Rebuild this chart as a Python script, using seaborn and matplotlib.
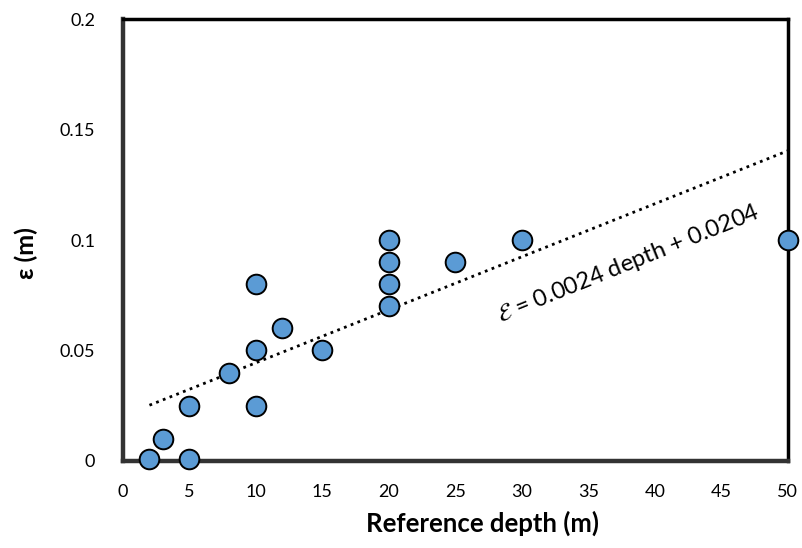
import matplotlib
matplotlib.use("Agg")
import matplotlib.pyplot as plt
import seaborn as sns
import numpy as np
import pandas as pd

depth = [2, 3, 5, 5, 8, 10, 10, 10, 12, 15, 20, 20, 20, 20, 25, 30, 50]
eps = [0.001, 0.01, 0.001, 0.025, 0.04, 0.025, 0.05, 0.08, 0.06, 0.05, 0.07, 0.08, 0.09, 0.1, 0.09, 0.1, 0.1]
trend_slope = 0.0024
trend_intercept = 0.0204
trend_x = [2, 50]
x_ticks = [0, 5, 10, 15, 20, 25, 30, 35, 40, 45, 50]
y_ticks = [0, 0.05, 0.1, 0.15, 0.2]
y_ticklabels = ["0", "0.05", "0.1", "0.15", "0.2"]

sns.set_style("white")
plt.rcParams['font.family'] = ['Lato', 'DejaVu Sans']
plt.rcParams['text.color'] = 'black'
plt.rcParams['axes.labelcolor'] = 'black'
plt.rcParams['xtick.color'] = 'black'
plt.rcParams['ytick.color'] = 'black'

fig = plt.figure(figsize=(8.03, 5.48), dpi=100)
ax = fig.add_axes([0.153, 0.159, 0.828, 0.806])

df = pd.DataFrame({"depth": depth, "eps": eps})
tx = np.array(trend_x, dtype=float)
ty = trend_slope * tx + trend_intercept
ax.plot(tx, ty, linestyle=(0, (1, 1.6)), color="black", lw=2.0, zorder=2)

sns.scatterplot(data=df, x="depth", y="eps", ax=ax, s=200, color="#5B9BD5",
                edgecolor="black", linewidth=1.4, zorder=3, clip_on=False, legend=False)

ax.set_xlim(0, 50)
ax.set_ylim(0, 0.2)
ax.set_xticks(x_ticks)
ax.set_yticks(y_ticks)
ax.set_yticklabels(y_ticklabels)
ax.tick_params(axis="both", length=0, labelsize=13)
ax.tick_params(axis="x", pad=17)
ax.tick_params(axis="y", pad=20)

for s in ["top", "right"]:
    ax.spines[s].set_color("black")
    ax.spines[s].set_linewidth(2.5)
for s in ["left", "bottom"]:
    ax.spines[s].set_color("#333333")
    ax.spines[s].set_linewidth(3.2)
ax.axvline(0, color="#aaaaaa", lw=1.4, zorder=1.5, clip_on=False)
ax.axhline(0, color="#aaaaaa", lw=1.4, zorder=1.5, clip_on=False)

ax.set_xlabel("Reference depth (m)", fontsize=18.5, fontweight="bold")
ax.set_ylabel("ε (m)", fontsize=18, fontweight="bold")
ax.xaxis.set_label_coords(0.541, -0.112)
ax.yaxis.set_label_coords(-0.128, 0.47)

ax.text(38.0, 0.089, r"$\mathcal{E}$ = 0.0024 depth + 0.0204", rotation=22,
        ha="center", va="center", fontsize=17, rotation_mode="anchor")

fig.savefig("out.png", dpi=100)
